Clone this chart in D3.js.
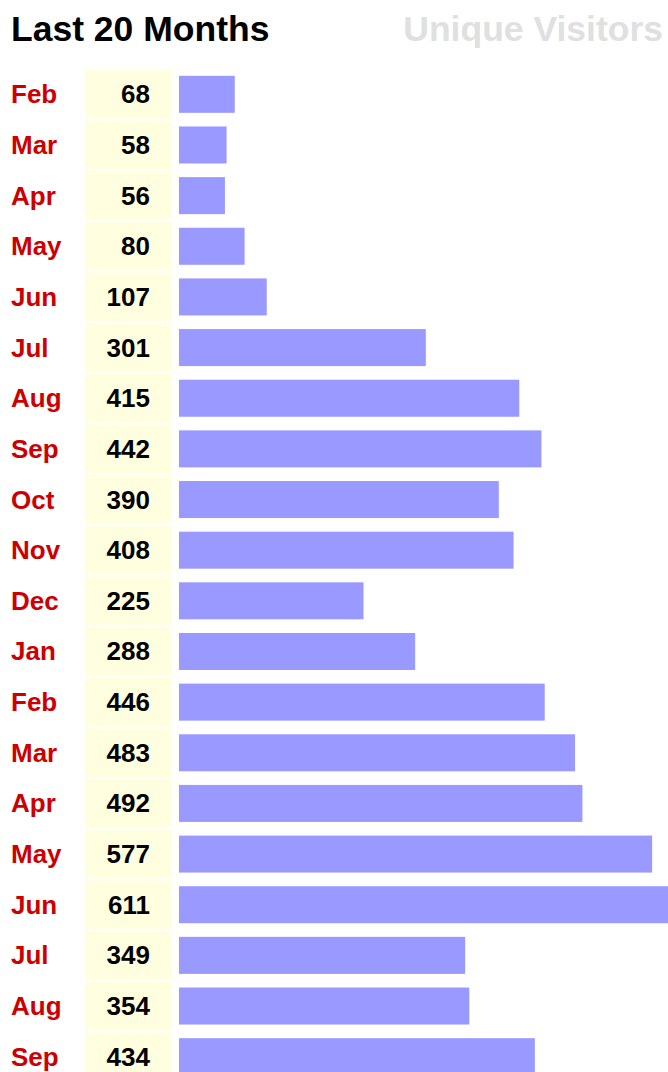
<!DOCTYPE html>
<html lang="en">
<head>
    <meta charset="UTF-8">
    <title>Last 20 Months</title>
    <style>
        html, body { margin: 0; padding: 0; background: #fff; overflow: hidden; }
        text { font-family: "Liberation Sans", Arial, sans-serif; font-weight: bold; }
    </style>
</head>
<body>
<script src="https://d3js.org/d3.v7.min.js"></script>
<script>
    const months = ['Feb', 'Mar', 'Apr', 'May', 'Jun', 'Jul', 'Aug', 'Sep', 'Oct', 'Nov',
                    'Dec', 'Jan', 'Feb', 'Mar', 'Apr', 'May', 'Jun', 'Jul', 'Aug', 'Sep'];
    const visitors = [68, 58, 56, 80, 107, 301, 415, 442, 390, 408,
                      225, 288, 446, 483, 492, 577, 611, 349, 354, 434];

    const width = 668, height = 1072;

    const svg = d3.select('body').append('svg')
        .attr('width', width)
        .attr('height', height);

    // titles
    svg.append('text')
        .attr('x', 11).attr('y', 41)
        .attr('font-size', 35.5)
        .attr('fill', '#000')
        .text('Last 20 Months');

    svg.append('text')
        .attr('x', 663).attr('y', 41)
        .attr('text-anchor', 'end')
        .attr('font-size', 35.5)
        .attr('fill', '#e0e0e0')
        .text('Unique Visitors');

    // row positions
    const step = 50.65;
    const y = d3.scaleBand()
        .domain(d3.range(months.length))
        .range([69, 69 + step * months.length])
        .paddingInner(0.04)
        .paddingOuter(0.02);

    const x = d3.scaleLinear()
        .domain([0, 611])
        .range([0, 501]);

    const rows = svg.selectAll('.row')
        .data(visitors)
        .enter().append('g')
        .attr('class', 'row')
        .attr('transform', (d, i) => `translate(0,${y(i)})`);

    const bh = y.bandwidth();

    // yellow value cells
    rows.append('rect')
        .attr('x', 85).attr('y', 0)
        .attr('width', 86).attr('height', bh)
        .attr('fill', '#ffffe0');

    // bars
    rows.append('rect')
        .attr('x', 179).attr('y', (bh - 37) / 2)
        .attr('width', d => x(d)).attr('height', 37)
        .attr('fill', '#9999ff');

    // month labels
    rows.append('text')
        .attr('x', 11).attr('y', bh / 2 + 9)
        .attr('font-size', 26)
        .attr('fill', '#cc0000')
        .text((d, i) => months[i]);

    // value labels
    rows.append('text')
        .attr('x', 150).attr('y', bh / 2 + 9)
        .attr('text-anchor', 'end')
        .attr('font-size', 26)
        .attr('fill', '#000')
        .text(d => d);
</script>
</body>
</html>
